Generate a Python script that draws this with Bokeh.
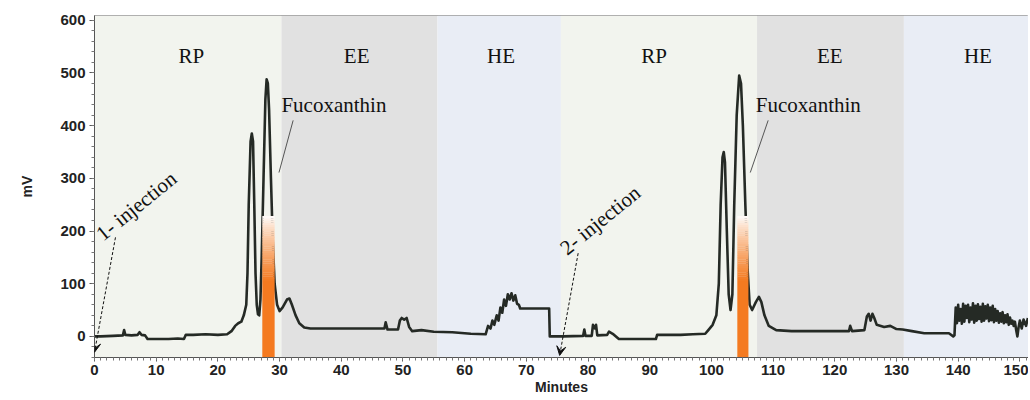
from bokeh.plotting import figure
from bokeh.models import Range1d, Arrow, VeeHead, SingleIntervalTicker
from bokeh.core.properties import value
from bokeh.embed import file_html
from bokeh.resources import INLINE

# ---------------- data ----------------
phase_names = ["RP", "EE", "HE", "RP", "EE", "HE"]
phase_start = [0, 30.3, 55.6, 75.6, 107.4, 131.2]
phase_end = [30.3, 55.6, 75.6, 107.4, 131.2, 152]
phase_label_x = [15.7, 42.5, 65.9, 90.7, 119.2, 143.2]

time_min = [
    0, 1, 2, 3, 4.6, 4.8, 5.0, 6, 7.0, 7.3, 7.6, 8.2, 8.6, 10, 12, 13.5, 14.5, 14.8, 16, 18, 20, 21.5,
    22.2, 22.8, 23.3, 23.8, 24.2, 24.6, 24.8, 25.0, 25.3, 25.5, 25.7, 25.9, 26.1, 26.3, 26.5, 26.7,
    26.9, 27.1, 27.4, 27.7, 27.9, 28.1, 28.3, 28.6, 28.9, 29.2, 29.6, 30.0, 30.5, 31.2, 31.6, 32.0,
    32.6, 33.2, 34, 35, 38, 41, 44, 47, 47.2, 47.5, 49.2, 49.5, 49.8, 50.2, 50.6, 51.0, 51.5, 53, 55,
    58, 61, 63.4, 63.8, 64.2, 64.5, 64.8, 65.2, 65.5, 65.8, 66.1, 66.4, 66.7, 67.0, 67.3, 67.6, 67.9,
    68.2, 68.5, 68.8, 69.0, 73.7, 73.8, 76, 79.2, 79.4, 79.6, 80.6, 80.8, 81.1, 81.3, 81.5, 83.1,
    83.4, 84, 85, 91, 91.2, 95, 97, 99, 99.5, 100.2, 100.8, 101.2, 101.5, 101.8, 102.0, 102.2, 102.5,
    102.8, 103.1, 103.4, 103.7, 104.1, 104.5, 104.8, 105.1, 105.5, 105.9, 106.2, 106.6, 107.2, 107.7,
    108.1, 108.6, 109.3, 110.5, 113, 117, 120, 122.3, 122.5, 122.8, 124.8, 125.2, 125.5, 125.8, 126.1,
    126.4, 126.8, 128, 129, 130, 131, 132.5, 134.5, 138.5, 139.2, 139.4,
    139.6, 139.8, 140.0, 140.2, 140.4, 140.6, 140.8, 141.0, 141.2, 141.4, 141.6, 141.8, 142.0, 142.2,
    142.4, 142.6, 142.8, 143.0, 143.2, 143.4, 143.6, 143.8, 144.0, 144.2, 144.4, 144.6, 144.8, 145.0,
    145.2, 145.4, 145.6, 145.8, 146.0, 146.2, 146.4, 146.6, 146.8, 147.0, 147.2, 147.4, 147.6, 147.8,
    148.0, 148.2, 148.4, 148.6, 148.8, 149.0, 149.2, 149.4, 149.6, 149.8, 150.0, 150.3, 150.6, 151.0,
    151.3, 151.6, 152,
]
signal_mv = [
    0, 0, 0.5, 1, 2, 12, 3, 2, 3, 8, 3, 2, -5, -5, -5, -4, -5, 3, 3, 4, 3, 4,
    10, 20, 25, 28, 40, 60, 120, 250, 370, 385, 370, 250, 120, 60, 42, 40,
    70, 150, 300, 450, 488, 480, 430, 300, 180, 100, 60, 48, 55, 70, 72, 60,
    40, 25, 17, 15, 15, 15, 15, 15, 27, 13, 13, 30, 35, 32, 35, 18, 10, 12, 9,
    8, 5, 4, 20, 15, 30, 22, 40, 30, 55, 45, 70, 58, 80, 70, 82, 68,
    78, 62, 60, 53, 53, 0, 0, 1, 13, 1, 1, 22, 15, 22, 2, 3,
    9, 5, -5, -5, 3, 3, 4, 5, 12, 22, 40, 100, 250, 340, 350, 330, 200,
    80, 50, 80, 250, 420, 495, 480, 400, 250, 120, 60, 50, 65, 75,
    65, 40, 20, 12, 10, 10, 10, 10, 20, 10, 12, 38, 43, 30, 43,
    35, 22, 18, 20, 14, 13, 10, 6, 6, 0, 2,
    55, 25, 60, 30, 52, 24, 62, 28, 58, 35, 60, 27, 55, 32, 63, 26,
    58, 30, 61, 33, 56, 28, 62, 30, 57, 34, 60, 29, 55, 31, 58,
    27, 52, 30, 48, 26, 44, 28, 46, 25, 40, 27, 42, 22, 36, 24,
    30, 20, 28, 12, 0, 18, 30, 15, 32, 20, 35,
]

fuco_start = [27.2, 104.2]
fuco_end = [29.2, 106.0]
fuco_solid_top = 105
fuco_top = 228

inj_labels = ["1- injection", "2- injection"]
inj_text_x = [0.7, 75.9]
inj_text_y = [190, 163]
inj_arrow_start = [(3.4, 188), (78.4, 158)]
inj_arrow_end = [(0.0, -30), (75.4, -36)]

fuco_label_x = [30.3, 107.2]
fuco_label_y = [440, 440]
fuco_leader_start = [(32.2, 410), (109.2, 410)]
fuco_leader_end = [(29.9, 311), (106.3, 311)]

# ---------------- figure ----------------
p = figure(width=1028, height=400, output_backend="svg", toolbar_location=None,
           x_range=Range1d(0, 151.4), y_range=Range1d(-40, 609),
           min_border_left=94, min_border_right=0, min_border_top=15, min_border_bottom=43)
p.xgrid.visible = False
p.ygrid.visible = False
p.background_fill_color = "white"
p.outline_line_color = "#9a9a9a"
p.outline_line_width = 1

phase_colors = {"RP": "#f2f4ee", "EE": "#e1e1e1", "HE": "#e9edf5"}
p.quad(left=phase_start, right=phase_end, bottom=-40, top=609,
       fill_color=[phase_colors[n] for n in phase_names], line_color=None)

serif = value("Liberation Serif")
p.text(x=phase_label_x, y=[533] * 6, text=phase_names, text_font=serif,
       text_font_size="21px", text_align="center", text_baseline="middle", text_color="#111111")

# trace
p.line(time_min, signal_mv, line_color="#252a25", line_width=2.6, line_join="round")

# fucoxanthin highlight with fading top
orange = (244, 122, 32)
p.quad(left=fuco_start, right=fuco_end, bottom=-40, top=fuco_solid_top,
       fill_color="#%02x%02x%02x" % orange, line_color=None)
n_steps = 30
step = (fuco_top - fuco_solid_top) / n_steps
for i in range(n_steps):
    f = 1.0 - (i + 0.5) / n_steps
    f = f ** 0.8
    col = tuple(int(round(255 - (255 - c) * f)) for c in orange)
    p.quad(left=fuco_start, right=fuco_end, bottom=fuco_solid_top + i * step,
           top=fuco_solid_top + (i + 1) * step + 0.5,
           fill_color="#%02x%02x%02x" % col, line_color=None)

# fucoxanthin labels
p.text(x=fuco_label_x, y=fuco_label_y, text=["Fucoxanthin"] * 2, text_font=serif,
       text_font_size="21px", text_align="left", text_baseline="middle", text_color="#111111")
p.segment(x0=[s[0] for s in fuco_leader_start], y0=[s[1] for s in fuco_leader_start],
          x1=[e[0] for e in fuco_leader_end], y1=[e[1] for e in fuco_leader_end],
          line_color="#555555", line_width=1)

# injection labels and arrows
p.text(x=inj_text_x, y=inj_text_y, text=inj_labels, angle=0.68, text_font=serif,
       text_font_size="21px", text_align="left", text_baseline="alphabetic", text_color="#111111")
for s, e in zip(inj_arrow_start, inj_arrow_end):
    p.add_layout(Arrow(end=VeeHead(size=9, fill_color="#111111", line_color="#111111"),
                       x_start=s[0], y_start=s[1], x_end=e[0], y_end=e[1],
                       line_dash="3 2", line_width=1, line_color="#111111"))

# axes
for ax in (p.xaxis[0], p.yaxis[0]):
    ax.axis_line_color = "#555555"
    ax.major_tick_line_color = "#555555"
    ax.minor_tick_line_color = "#777777"
    ax.major_label_text_font = "Liberation Sans"
    ax.major_label_text_font_style = "bold"
    ax.major_label_text_font_size = "15px"
    ax.major_label_text_color = "#222222"
    ax.axis_label_text_font = "Liberation Sans"
    ax.axis_label_text_font_style = "bold"
    ax.axis_label_text_font_size = "14px"
    ax.axis_label_text_color = "#222222"
    ax.major_tick_in = 0
    ax.major_tick_out = 5
    ax.minor_tick_in = 0
    ax.minor_tick_out = 3

p.xaxis.major_tick_out = 4
p.xaxis.ticker = SingleIntervalTicker(interval=10, num_minor_ticks=10)
p.yaxis.ticker = SingleIntervalTicker(interval=100, num_minor_ticks=5)
p.xaxis.axis_label = "Minutes"
p.yaxis.axis_label = "mV"
p.xaxis.major_label_standoff = 3
p.xaxis.axis_label_standoff = 1
p.yaxis.major_label_standoff = 4
p.yaxis.axis_label_standoff = 22

open("out.html", "w").write(file_html(p, INLINE))
